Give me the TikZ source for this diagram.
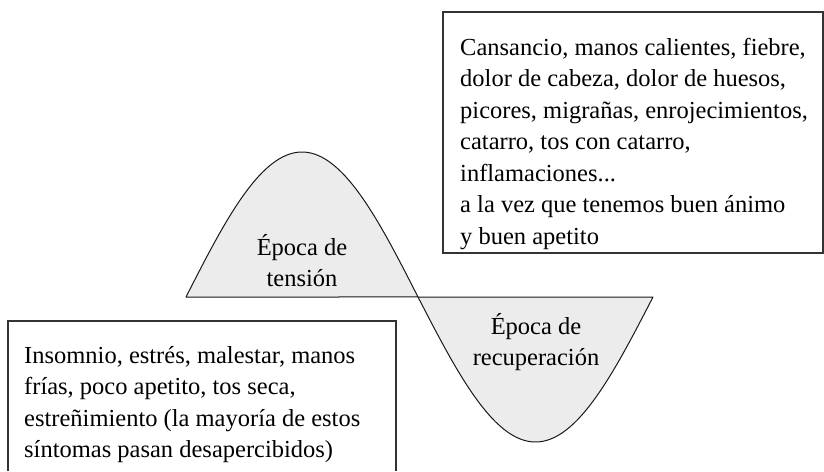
\documentclass[tikz,border=0pt]{standalone}
\usepackage{fontspec}
\setmainfont{Liberation Serif}
\begin{document}
\begin{tikzpicture}[x=1pt,y=-1pt,
  boxline/.style={draw=black!80,line width=1.1pt},
  wave/.style={draw=black!90,line width=1pt,fill=gray!15,line join=round},
  boxtext/.style={inner sep=0pt,align=left,font=\fontsize{24.5}{31.5}\selectfont},
  label/.style={inner sep=0pt,align=center,font=\fontsize{24.5}{31}\selectfont}]
\useasboundingbox (0,0) rectangle (824,471);
% top-right box
\draw[boxline] (443,12) rectangle (823,253);
\node[boxtext,anchor=north west] (tr) at (460,38) {Cansancio, manos calientes, fiebre,\\
dolor de cabeza, dolor de huesos,\\
picores, migrañas, enrojecimientos,\\
catarro, tos con catarro,\\
inflamaciones...\\
a la vez que tenemos buen ánimo\\
y buen apetito};
% bottom-left box (open at bottom)
\draw[boxline] (8,471) |- (396,321) -- (396,471);
\node[boxtext,anchor=north west] (bl) at (24,346) {Insomnio, estrés, malestar, manos\\
frías, poco apetito, tos seca,\\
estreñimiento (la mayoría de estos\\
síntomas pasan desapercibidos)};
% wave
\coordinate (w0) at (186,297);
\coordinate (wm) at (418,297);
\coordinate (w1) at (653,297);
\draw[wave] (w0) -- plot[domain=186:418,samples=80] (\x,{297-145*sin((\x-186)/232*180)}) -- cycle;
\draw[wave] (wm) -- plot[domain=418:653,samples=80] (\x,{297+145*sin((\x-418)/235*180)}) -- cycle;
\node[label] (ten) at (302,261) {Época de\\tensión};
\node[label] (rec) at (536,342) {Época de\\recuperación};
\end{tikzpicture}
\end{document}
